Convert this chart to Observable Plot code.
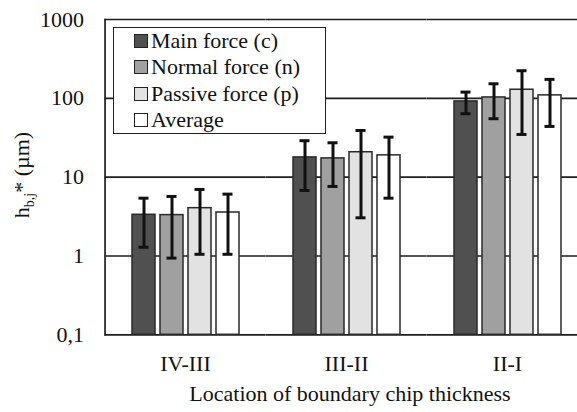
<!DOCTYPE html>
<html>
<head>
<meta charset="utf-8">
<script src="https://cdn.jsdelivr.net/npm/d3@7"></script>
<script src="https://cdn.jsdelivr.net/npm/@observablehq/plot@0.6"></script>
<style>
  html, body { margin: 0; padding: 0; background: #fff; }
  #wrap { position: relative; width: 577px; height: 412px; overflow: hidden;
          font-family: 'Liberation Serif', 'Times New Roman', serif; color: #111; }
  #legend { position: absolute; left: 113px; top: 27px; width: 213px; height: 107px;
            border: 1.5px solid #222; background: #fff; box-sizing: border-box;
            padding: 0 0 0 20px; font-size: 22px; }
  #legend .row { display: flex; align-items: center; height: 26.3px; white-space: nowrap; }
  #legend .sw { width: 12px; height: 12px; border: 1.5px solid #222; margin-right: 3px; flex: none; }
</style>
</head>
<body>
<div id="wrap"><div id="chart"></div><div id="legend"></div></div>
<script>
// ---- data ----
const groups = ["IV-III", "III-II", "II-I"];
const series = ["Main force (c)", "Normal force (n)", "Passive force (p)", "Average"];
const colors = ["#505050", "#a0a0a0", "#e2e2e2", "#ffffff"];

const mainForce    = [3.33, 17.8, 91.4];
const mainLow      = [1.29, 6.78, 63.8];
const mainHigh     = [5.41, 29.0, 120];

const normalForce  = [3.30, 17.3, 102.6];
const normalLow    = [0.94, 7.62, 55.1];
const normalHigh   = [5.69, 27.3, 153];

const passiveForce = [4.04, 20.7, 128.5];
const passiveLow   = [1.05, 3.05, 34.8];
const passiveHigh  = [6.98, 39.1, 224];

const averageVal   = [3.56, 18.9, 109];
const averageLow   = [1.05, 5.41, 44.0];
const averageHigh  = [6.09, 32.2, 174];

const yTicks = [0.1, 1, 10, 100, 1000];
const yTickLabels = ["0,1", "1", "10", "100", "1000"];
const xTitle = "Location of boundary chip thickness";

// ---- table ----
const values = [mainForce, normalForce, passiveForce, averageVal];
const lows = [mainLow, normalLow, passiveLow, averageLow];
const highs = [mainHigh, normalHigh, passiveHigh, averageHigh];
const rows = [];
groups.forEach((g, gi) => {
  series.forEach((s, si) => {
    rows.push({group: g, series: s, value: values[si][gi], lo: lows[si][gi], hi: highs[si][gi]});
  });
});

const FONT = "'Liberation Serif', 'Times New Roman', serif";
const HALF_GAP = 25.45; // half of the space between facet groups

const chart = Plot.plot({
  width: 577,
  height: 412,
  marginLeft: 104,
  marginRight: 0,
  marginTop: 19,
  marginBottom: 77.7,
  style: {fontFamily: FONT, fontSize: "22px", color: "#111", background: "transparent", overflow: "hidden"},
  facet: {data: rows, x: "group"},
  fx: {domain: groups, range: [104, 587.3], paddingInner: 0.316, paddingOuter: 0.158,
       label: null, tickSize: 0, tickPadding: 20.6},
  x: {domain: series, paddingInner: 0.187, paddingOuter: 0, axis: null},
  y: {type: "log", domain: [yTicks[0], yTicks[yTicks.length - 1]], ticks: yTicks,
      tickFormat: d => yTickLabels[yTicks.indexOf(d)], tickSize: 0, tickPadding: 46.5, label: null},
  color: {domain: series, range: colors},
  marks: [
    Plot.ruleY(yTicks, {stroke: "#1e1e1e", strokeWidth: 1.7, insetLeft: -HALF_GAP, insetRight: -HALF_GAP}),
    Plot.frame({anchor: "left", facetAnchor: "left", dx: -HALF_GAP, stroke: "#1e1e1e", strokeWidth: 1.7}),
    Plot.barY(rows, {x: "series", y1: yTicks[0], y2: "value", fill: "series", stroke: "#2a2a2a", strokeWidth: 1.5}),
    Plot.ruleX(rows, {x: "series", y1: "lo", y2: "hi", stroke: "#111", strokeWidth: 3}),
    Plot.tickY(rows, {x: "series", y: "lo", stroke: "#111", strokeWidth: 3, inset: 6.5}),
    Plot.tickY(rows, {x: "series", y: "hi", stroke: "#111", strokeWidth: 3, inset: 6.5}),
    Plot.text([xTitle], {facet: "super", text: d => d, frameAnchor: "bottom", lineAnchor: "middle",
                         dy: 58.7, dx: 3.5, fill: "#111"})
  ]
});
document.getElementById("chart").appendChild(chart);

// y-axis title with subscript
const svg = d3.select(chart.tagName.toLowerCase() === "svg" ? chart : chart.querySelector("svg"));
const yl = svg.append("text")
  .attr("transform", "translate(29,175) rotate(-90)")
  .attr("text-anchor", "middle")
  .attr("font-family", FONT)
  .attr("font-size", 22)
  .attr("fill", "#111");
yl.append("tspan").text("h");
yl.append("tspan").attr("font-size", 14).attr("dy", 5).text("b,j");
yl.append("tspan").attr("dy", -5).text("*");
yl.append("tspan").text(" (µm)");

// legend
const legend = d3.select("#legend");
series.forEach((s, i) => {
  const r = legend.append("div").attr("class", "row");
  r.append("div").attr("class", "sw").style("background", colors[i]);
  r.append("span").text(s);
});
</script>
</body>
</html>
